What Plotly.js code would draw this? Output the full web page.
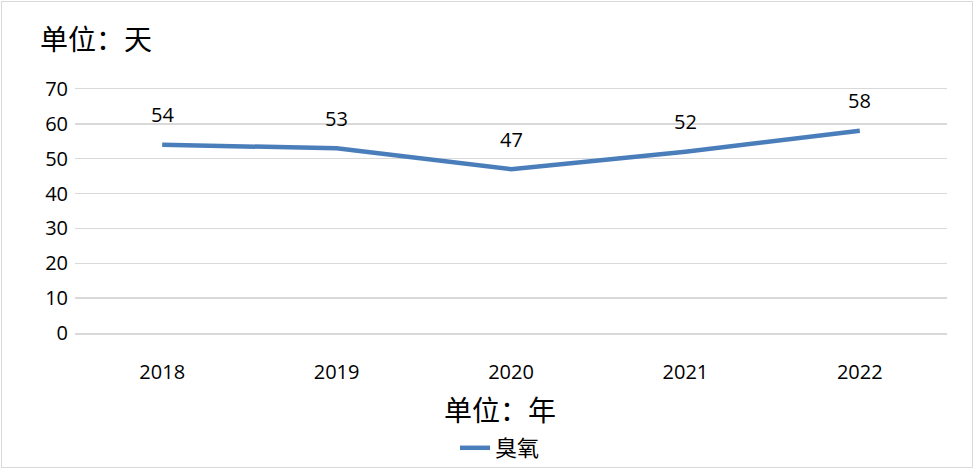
<!DOCTYPE html>
<html><head><meta charset="utf-8">
<script src="https://cdn.plot.ly/plotly-3.0.1.min.js"></script>
<style>html,body{margin:0;padding:0;background:#fff;}#wrap{position:relative;width:975px;height:471px;}
#frame{position:absolute;left:1px;top:1px;width:970px;height:465px;border:1.5px solid #d9d9d9;pointer-events:none;}</style>
</head><body>
<div id="wrap"><div id="chart" style="width:975px;height:471px;"></div><div id="frame"></div></div>
<script>
const years = ['2018','2019','2020','2021','2022'];
const ozoneDays = [54, 53, 47, 52, 58];
const seriesName = '臭氧';
const yTitle = '单位：天';
const xTitle = '单位：年';

const num = {family: '"Open Sans", "Noto Sans", sans-serif', size: 20, color: '#000'};
const cjk = '"Noto Sans CJK SC", sans-serif';

const trace = {
  x: years, y: ozoneDays, type: 'scatter', mode: 'lines', name: seriesName,
  line: {color: '#4a7ebb', width: 4.5}
};

const labels = years.map((yr, i) => ({
  x: i, y: ozoneDays[i], xref: 'x', yref: 'y', text: String(ozoneDays[i]),
  showarrow: false, yshift: 30, font: num
}));

const layout = {
  width: 975, height: 471,
  margin: {l: 75, r: 28, t: 89, b: 138, autoexpand: false},
  paper_bgcolor: '#fff', plot_bgcolor: '#fff',
  showlegend: true,
  legend: {orientation: 'h', x: (455-75)/872, xanchor: 'left', y: -(448-333)/244, yanchor: 'middle',
           font: {family: cjk, size: 22, color: '#000'}},
  xaxis: {type: 'category', range: [-0.5, 4.5], showgrid: false, zeroline: false,
          showline: true, mirror: true, linecolor: '#d9d9d9', linewidth: 1.5,
          ticks: '', tickfont: num, ticklabelstandoff: 20},
  yaxis: {range: [0, 70], dtick: 10, showgrid: true, gridcolor: '#d9d9d9', gridwidth: 1.5,
          zeroline: false, showline: false, ticks: '', tickfont: num, ticklabelstandoff: 6},
  annotations: labels.concat([
    {xref: 'paper', yref: 'paper', x: (38-75)/872, y: (333-38)/244, xanchor: 'left', yanchor: 'middle',
     text: yTitle, showarrow: false, font: {family: cjk, size: 28, color: '#000'}},
    {xref: 'paper', yref: 'paper', x: (500-75)/872, y: -(409-333)/244, xanchor: 'center', yanchor: 'middle',
     text: xTitle, showarrow: false, font: {family: cjk, size: 28, color: '#000'}}
  ])
};

Plotly.newPlot('chart', [trace], layout, {displayModeBar: false, staticPlot: true});
</script>
</body></html>
